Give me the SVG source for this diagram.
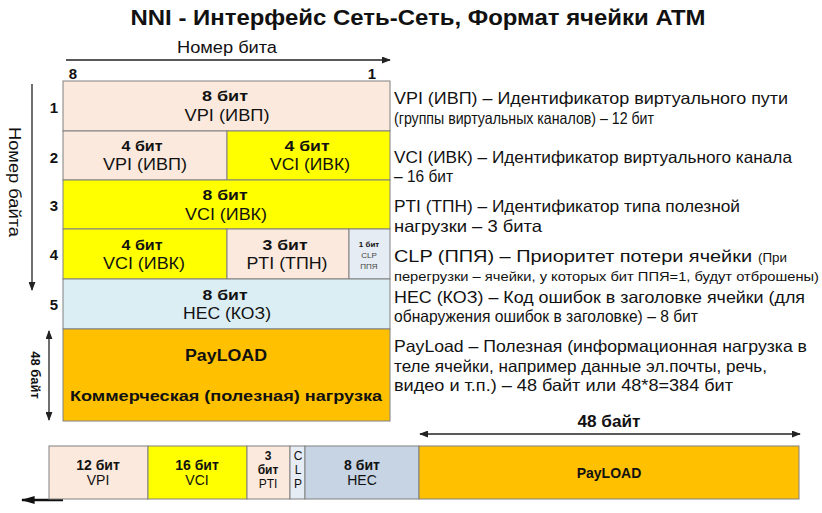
<svg xmlns="http://www.w3.org/2000/svg" width="822" height="513" viewBox="0 0 822 513">
<defs>
<marker id="ah" viewBox="0 0 10 10" refX="9" refY="5" markerWidth="9" markerHeight="7" markerUnits="userSpaceOnUse" orient="auto-start-reverse" preserveAspectRatio="none">
<path d="M0,0 L10,5 L0,10 z" fill="#222"/>
</marker>
<marker id="ahb" viewBox="0 0 10 10" refX="9" refY="5" markerWidth="14" markerHeight="8" markerUnits="userSpaceOnUse" orient="auto-start-reverse" preserveAspectRatio="none">
<path d="M0,0 L10,5 L0,10 z" fill="#111"/>
</marker>
</defs>
<style>
text{font-family:"Liberation Sans",Arial,sans-serif;fill:#111;}
.c{text-anchor:middle;}
.b{font-weight:bold;}
.t{font-size:15px;font-weight:bold;}
.n{font-size:16px;}
.d{font-size:16.5px;}
.s{font-size:12.5px;}
.bb{font-size:14px;font-weight:bold;}
.bn{font-size:14px;}
.sb{font-size:12px;font-weight:bold;}
.sn{font-size:12px;}
.cell{stroke:#808080;stroke-width:1;}
.peach{fill:#fbe9dd;}
.yel{fill:#ffff00;}
.blue{fill:#dbeef3;}
.org{fill:#ffc000;}
.gray{fill:#e6ecf3;}
.hec{fill:#c6d4e3;}
.ln{stroke:#222;stroke-width:1.3;fill:none;}
</style>
<rect width="822" height="513" fill="#fff"/>
<text x="418" y="25" class="c b" style="font-size:22px" textLength="575" lengthAdjust="spacingAndGlyphs">NNI - Интерфейс Сеть-Сеть, Формат ячейки ATM</text>

<g id="axis-labels">
<text x="227" y="53" class="c n" textLength="100" lengthAdjust="spacingAndGlyphs">Номер бита</text>
<text x="73" y="79" class="c t">8</text>
<text x="372" y="79" class="c t">1</text>
<text transform="translate(9,182) rotate(90)" class="c n" textLength="110" lengthAdjust="spacingAndGlyphs">Номер байта</text>
<text transform="translate(31,375) rotate(90)" class="c b" style="font-size:13px">48 байт</text>
<text x="54" y="113" class="c t">1</text>
<text x="54" y="163" class="c t">2</text>
<text x="54" y="211" class="c t">3</text>
<text x="54" y="260" class="c t">4</text>
<text x="54" y="310" class="c t">5</text>
</g>

<g id="connectors">
<line class="ln" x1="66" y1="60" x2="390" y2="60" marker-end="url(#ah)"/>
<line class="ln" x1="32" y1="84" x2="32" y2="290" marker-end="url(#ah)"/>
<line class="ln" x1="49" y1="331" x2="49" y2="420" marker-start="url(#ah)" marker-end="url(#ah)"/>
<line class="ln" x1="420" y1="434" x2="800" y2="434" marker-start="url(#ah)" marker-end="url(#ah)"/>
<line x1="63" y1="500" x2="22" y2="500" stroke="#111" stroke-width="2.5" marker-end="url(#ahb)"/>
</g>

<g id="row1-vpi">
<rect class="cell peach" x="63" y="81" width="327" height="50"/>
<text x="225" y="101" class="c t" textLength="46" lengthAdjust="spacingAndGlyphs">8 бит</text>
<text x="227" y="121" class="c n" textLength="85" lengthAdjust="spacingAndGlyphs">VPI (ИВП)</text>
</g>
<g id="row2-vpi">
<rect class="cell peach" x="63" y="131" width="164" height="49"/>
<text x="142" y="151" class="c t" textLength="41" lengthAdjust="spacingAndGlyphs">4 бит</text>
<text x="145" y="170" class="c n" textLength="84" lengthAdjust="spacingAndGlyphs">VPI (ИВП)</text>
</g>
<g id="row2-vci">
<rect class="cell yel" x="227" y="131" width="163" height="49"/>
<text x="307" y="151" class="c t" textLength="45" lengthAdjust="spacingAndGlyphs">4 бит</text>
<text x="310" y="170" class="c n" textLength="80" lengthAdjust="spacingAndGlyphs">VCI (ИВК)</text>
</g>
<g id="row3-vci">
<rect class="cell yel" x="63" y="180" width="327" height="49"/>
<text x="225" y="200" class="c t" textLength="45" lengthAdjust="spacingAndGlyphs">8 бит</text>
<text x="226" y="220" class="c n" textLength="82" lengthAdjust="spacingAndGlyphs">VCI (ИВК)</text>
</g>
<g id="row4-vci">
<rect class="cell yel" x="63" y="229" width="164" height="50"/>
<text x="142" y="250" class="c t" textLength="41" lengthAdjust="spacingAndGlyphs">4 бит</text>
<text x="144" y="269" class="c n" textLength="82" lengthAdjust="spacingAndGlyphs">VCI (ИВК)</text>
</g>
<g id="row4-pti">
<rect class="cell peach" x="227" y="229" width="122" height="50"/>
<text x="285" y="250" class="c t" textLength="45" lengthAdjust="spacingAndGlyphs">3 бит</text>
<text x="287" y="269" class="c n" textLength="81" lengthAdjust="spacingAndGlyphs">PTI (ТПН)</text>
</g>
<g id="row4-clp">
<rect class="cell gray" x="349" y="229" width="41" height="50"/>
<text x="369" y="247" class="c b" style="font-size:8px">1 бит</text>
<text x="369" y="258" class="c" style="font-size:8px;fill:#444">CLP</text>
<text x="369" y="269" class="c" style="font-size:8px;fill:#444">ППЯ</text>
</g>
<g id="row5-hec">
<rect class="cell blue" x="63" y="279" width="327" height="50"/>
<text x="225" y="300" class="c t" textLength="45" lengthAdjust="spacingAndGlyphs">8 бит</text>
<text x="227" y="319" class="c n" textLength="88" lengthAdjust="spacingAndGlyphs">HEC (КОЗ)</text>
</g>
<g id="payload">
<rect class="cell org" x="63" y="329" width="327" height="92"/>
<text x="226" y="361" class="c b" style="font-size:16px" textLength="82" lengthAdjust="spacingAndGlyphs">PayLOAD</text>
<text x="226" y="401" class="c b" style="font-size:15.5px" textLength="312" lengthAdjust="spacingAndGlyphs">Коммерческая (полезная) нагрузка</text>
</g>

<g id="descriptions">
<text x="394" y="104" class="d" textLength="394" lengthAdjust="spacingAndGlyphs">VPI (ИВП) – Идентификатор виртуального пути</text>
<text x="394" y="124" class="d" textLength="260" lengthAdjust="spacingAndGlyphs">(группы виртуальных каналов) – 12 бит</text>
<text x="394" y="163" class="d" textLength="398" lengthAdjust="spacingAndGlyphs">VCI (ИВК) – Идентификатор виртуального канала</text>
<text x="394" y="182" class="d" textLength="59" lengthAdjust="spacingAndGlyphs">– 16 бит</text>
<text x="394" y="212" class="d" textLength="346" lengthAdjust="spacingAndGlyphs">PTI (ТПН) – Идентификатор типа полезной</text>
<text x="394" y="232" class="d" textLength="148" lengthAdjust="spacingAndGlyphs">нагрузки – 3 бита</text>
<text x="394" y="262" class="d" textLength="358" lengthAdjust="spacingAndGlyphs">CLP (ППЯ) – Приоритет потери ячейки</text>
<text x="758" y="262" class="s" textLength="29" lengthAdjust="spacingAndGlyphs">(При</text>
<text x="394" y="281" class="s" textLength="425" lengthAdjust="spacingAndGlyphs">перегрузки – ячейки, у которых бит ППЯ=1, будут отброшены)</text>
<text x="394" y="303" class="d" textLength="411" lengthAdjust="spacingAndGlyphs">HEC (КОЗ) – Код ошибок в заголовке ячейки (для</text>
<text x="394" y="322" class="d" textLength="304" lengthAdjust="spacingAndGlyphs">обнаружения ошибок в заголовке) – 8 бит</text>
<text x="394" y="352" class="d" textLength="413" lengthAdjust="spacingAndGlyphs">PayLoad – Полезная (информационная нагрузка в</text>
<text x="394" y="372" class="d" textLength="373" lengthAdjust="spacingAndGlyphs">теле ячейки, например данные эл.почты, речь,</text>
<text x="394" y="391" class="d" textLength="339" lengthAdjust="spacingAndGlyphs">видео и т.п.) – 48 байт или 48*8=384 бит</text>
<text x="609" y="427" class="c b" style="font-size:16px" textLength="63" lengthAdjust="spacingAndGlyphs">48 байт</text>
</g>

<g id="bar-vpi">
<rect class="cell peach" x="49" y="446" width="99" height="53"/>
<text x="98" y="470" class="c bb">12 бит</text>
<text x="98" y="485" class="c bn">VPI</text>
</g>
<g id="bar-vci">
<rect class="cell yel" x="148" y="446" width="99" height="53"/>
<text x="197" y="470" class="c bb">16 бит</text>
<text x="197" y="485" class="c bn">VCI</text>
</g>
<g id="bar-pti">
<rect class="cell peach" x="247" y="446" width="43" height="53"/>
<text x="268" y="460" class="c sb">3</text>
<text x="268" y="474" class="c sb">бит</text>
<text x="268" y="488" class="c sn">PTI</text>
</g>
<g id="bar-clp">
<rect class="cell gray" x="290" y="446" width="15" height="53"/>
<text x="298" y="460" class="c sn">C</text>
<text x="298" y="474" class="c sn">L</text>
<text x="298" y="488" class="c sn">P</text>
</g>
<g id="bar-hec">
<rect class="cell hec" x="305" y="446" width="114" height="53"/>
<text x="362" y="470" class="c bb">8 бит</text>
<text x="362" y="485" class="c bn">HEC</text>
</g>
<g id="bar-payload">
<rect class="cell org" x="419" y="446" width="380" height="53"/>
<text x="609" y="478" class="c bb">PayLOAD</text>
</g>
</svg>
